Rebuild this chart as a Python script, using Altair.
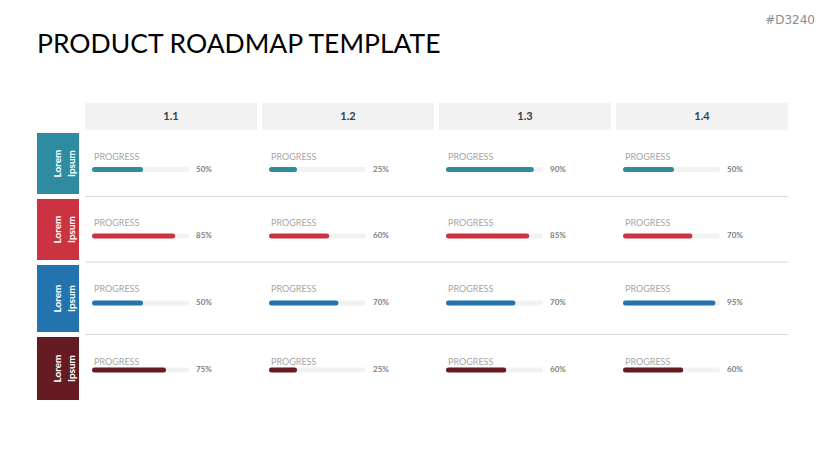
import altair as alt
import pandas as pd

# ---- data ----
phases = ["1.1", "1.2", "1.3", "1.4"]
row_labels = ["Lorem Ipsum", "Lorem Ipsum", "Lorem Ipsum", "Lorem Ipsum"]
row_colors = ["#2E8BA0", "#CC3340", "#2373AF", "#661A22"]
progress_r1 = [50, 25, 90, 50]
progress_r2 = [85, 60, 85, 70]
progress_r3 = [50, 70, 70, 95]
progress_r4 = [75, 25, 60, 60]
progress = [progress_r1, progress_r2, progress_r3, progress_r4]
title_text = "PRODUCT ROADMAP TEMPLATE"
code_text = "#D3240"
cell_label = "PROGRESS"

# ---- layout (slide pixel units) ----
W, H = 813, 450
COL_X0, COL_W, COL_PITCH = 85, 172, 177
HEAD_Y0, HEAD_Y1 = 103, 130
ROW_TOP = [133, 199, 265, 337]
ROW_BOT = [194, 260, 332, 400]
LABEL_Y = [157, 223, 289, 361.5]
BAR_Y = [169.5, 236, 303, 370]
SEP_Y = [196.5, 262, 334.5]
BOX_X0, BOX_X1 = 37, 79
TRACK_START, TRACK_LEN = 9.5, 92
FONT = "Lato"

xs = alt.Scale(domain=[8, 8 + W], nice=False, zero=False)
ys = alt.Scale(domain=[8, 8 + H], nice=False, zero=False, reverse=True)

def X(f):
    return alt.X(f, type="quantitative", scale=xs, axis=None)

def Y(f):
    return alt.Y(f, type="quantitative", scale=ys, axis=None)

# headers
hdr = pd.DataFrame({"phase": phases})
hdr["x0"] = [COL_X0 + i * COL_PITCH for i in range(len(phases))]
hdr["x1"] = hdr["x0"] + COL_W
hdr["xc"] = hdr["x0"] + COL_W / 2
hdr["y0"] = HEAD_Y0
hdr["y1"] = HEAD_Y1
hdr["yc"] = (HEAD_Y0 + HEAD_Y1) / 2

# rows
rws = pd.DataFrame({"label": row_labels, "color": row_colors})
rws["y0"] = ROW_TOP
rws["y1"] = ROW_BOT
rws["yc"] = [(a + b) / 2 for a, b in zip(ROW_TOP, ROW_BOT)]
rws["x0"] = BOX_X0
rws["x1"] = BOX_X1
rws["xc"] = (BOX_X0 + BOX_X1) / 2
rws["lines"] = [l.split(" ") for l in row_labels]

# cells
recs = []
for r in range(len(row_labels)):
    for c in range(len(phases)):
        x0 = COL_X0 + c * COL_PITCH
        v = progress[r][c]
        recs.append({
            "row": r, "phase": phases[c], "value": v,
            "color": row_colors[r],
            "lx": x0 + 9, "ly": LABEL_Y[r],
            "bx0": x0 + TRACK_START, "bx1": x0 + TRACK_START + TRACK_LEN,
            "fx1": x0 + TRACK_START + TRACK_LEN * v / 100,
            "by": BAR_Y[r],
            "px": x0 + 111,
            "pct": f"{v}%",
            "label": cell_label,
        })
cells = pd.DataFrame(recs)

seps = pd.DataFrame({"y": SEP_Y, "x0": COL_X0, "x1": COL_X0 + 3 * COL_PITCH + COL_W})

hdr_rect = alt.Chart(hdr).mark_rect(color="#F2F2F2").encode(
    x=X("x0"), x2="x1", y=Y("y0"), y2="y1")
hdr_text = alt.Chart(hdr).mark_text(font=FONT, fontSize=11, fontWeight="bold",
                                    color="#333F50", baseline="middle").encode(
    x=X("xc"), y=Y("yc"), text="phase:N")

sep_rule = alt.Chart(seps).mark_rule(color="#D9D9D9", strokeWidth=1).encode(
    x=X("x0"), x2="x1", y=Y("y"))

box = alt.Chart(rws).mark_rect().encode(
    x=X("x0"), x2="x1", y=Y("y0"), y2="y1",
    color=alt.Color("color:N", scale=None))
box_text = alt.Chart(rws).mark_text(font=FONT, fontSize=10, fontWeight="bold",
                                    color="white", angle=270, align="center",
                                    baseline="middle", lineHeight=14).encode(
    x=X("xc"), y=Y("yc"), text="lines")

lbl = alt.Chart(cells).mark_text(font=FONT, fontSize=9, color="#A6A6A6",
                                 align="left", baseline="middle").encode(
    x=X("lx"), y=Y("ly"), text="label:N")
track = alt.Chart(cells).mark_rule(color="#F2F2F2", strokeWidth=5, strokeCap="round").encode(
    x=X("bx0"), x2="bx1", y=Y("by"))
fill = alt.Chart(cells).mark_rule(strokeWidth=5, strokeCap="round").encode(
    x=X("bx0"), x2="fx1", y=Y("by"), color=alt.Color("color:N", scale=None))
pct = alt.Chart(cells).mark_text(font=FONT, fontSize=8, fontWeight="bold", color="#808080",
                                 align="left", baseline="middle").encode(
    x=X("px"), y=Y("by"), text="pct:N")

ttl = pd.DataFrame({"t": [title_text], "x": [37], "y": [53]})
title = alt.Chart(ttl).mark_text(font=FONT, fontSize=26.5, color="#000000",
                                 align="left", baseline="alphabetic").encode(
    x=X("x"), y=Y("y"), text="t:N")
cd = pd.DataFrame({"t": [code_text], "x": [815], "y": [20]})
code = alt.Chart(cd).mark_text(font="DejaVu Sans", fontSize=12, color="#8C8C8C",
                               align="right", baseline="middle").encode(
    x=X("x"), y=Y("y"), text="t:N")

chart = alt.layer(hdr_rect, hdr_text, sep_rule, box, box_text, lbl, track, fill, pct,
                  title, code).properties(
    width=W, height=H, padding=0,
    autosize=alt.AutoSizeParams(type="none"),
).configure_view(stroke=None)

chart.save("out.html", embed_options={"renderer": "svg", "actions": False})
